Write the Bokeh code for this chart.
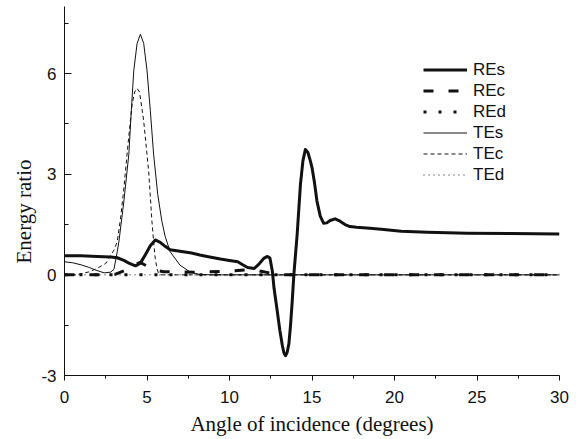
import math
from bokeh.plotting import figure
from bokeh.models import (FixedTicker, Range1d, Legend, LegendItem, Title)
from bokeh.embed import file_html
from bokeh.resources import INLINE

# ---------------- data ----------------
res_x = [0, 1, 2, 2.8, 3.2, 3.6, 3.9, 4.3, 4.6, 4.9, 5.2, 5.5, 5.8, 6.1, 6.4, 6.8,
         7.2, 7.7, 8.2, 8.8, 9.45, 10.0, 10.5, 10.8, 11.1, 11.5, 11.8, 12.1, 12.3,
         12.45, 12.6, 12.7, 12.9, 13.05, 13.2, 13.3, 13.4, 13.5, 13.6, 13.7, 13.8,
         13.9, 14.0, 14.1, 14.2, 14.3, 14.45, 14.6, 14.75, 14.9, 15.0, 15.15, 15.3,
         15.5, 15.7, 15.9, 16.1, 16.4, 16.7, 17.0, 17.3, 17.7, 18.5, 19.2, 20.4,
         22, 24.4, 27, 30]
res_y = [0.57, 0.57, 0.55, 0.53, 0.51, 0.43, 0.35, 0.27, 0.35, 0.6, 0.87, 1.04,
         0.97, 0.85, 0.75, 0.72, 0.69, 0.65, 0.59, 0.53, 0.47, 0.43, 0.39, 0.3,
         0.22, 0.19, 0.33, 0.5, 0.55, 0.5, 0.1, -0.4, -1.1, -1.65, -2.1, -2.33,
         -2.41, -2.3, -2.05, -1.5, -0.8, 0.0, 0.6, 1.2, 1.95, 2.7, 3.4, 3.74, 3.65,
         3.4, 3.2, 2.75, 2.2, 1.75, 1.54, 1.55, 1.62, 1.67, 1.6, 1.5, 1.44, 1.42,
         1.39, 1.36, 1.3, 1.27, 1.24, 1.23, 1.22]

rec_x = [0, 1, 2, 2.6, 3.1, 3.7, 4.2, 4.6, 5.2, 5.6, 6.0, 6.7, 8.0, 9.5, 10.5,
         11.2, 11.8, 12.5, 13.0, 30]
rec_y = [0, 0, 0, 0.0, 0.02, 0.14, 0.3, 0.37, 0.21, 0.13, 0.09, 0.09, 0.08, 0.1,
         0.13, 0.15, 0.12, 0.05, 0.0, 0.0]

red_x = [0, 30]
red_y = [0, 0]

tes_x = [0, 0.5, 1.0, 1.5, 1.9, 2.4, 2.8, 3.0, 3.2, 3.3, 3.6, 3.9, 4.05, 4.2, 4.4,
         4.6, 4.8, 5.0, 5.2, 5.4, 5.65, 5.9, 6.1, 6.4, 7.0, 7.6, 8.2, 9.0, 30]
tes_y = [0.39, 0.36, 0.3, 0.22, 0.14, 0.06, 0.08, 0.17, 0.7, 1.0, 2.2, 3.6, 4.9,
         6.1, 6.9, 7.17, 6.9, 6.1, 4.9, 3.6, 2.4, 1.6, 1.15, 0.69, 0.29, 0.09,
         0.01, 0.0, 0.0]

tec_x = [0, 0.7, 1.5, 2.0, 2.5, 3.0, 3.2, 3.4, 3.6, 3.85, 4.1, 4.25, 4.4, 4.55,
         4.8, 5.1, 5.3, 5.4, 5.5, 5.6, 5.7, 5.9, 30]
tec_y = [0, 0, 0.09, 0.2, 0.34, 0.74, 1.0, 1.7, 2.59, 3.9, 5.09, 5.45, 5.56, 5.45,
         4.59, 3.09, 1.59, 1.0, 0.49, 0.2, 0.04, 0.0, 0.0]

ted_x = [0, 30]
ted_y = [0, 0]

x_ticks = [0, 5, 10, 15, 20, 25, 30]
x_minor = [2.5, 7.5, 12.5, 17.5, 22.5, 27.5]
y_ticks = [-3, 0, 3, 6]
y_minor = [-1.5, 1.5, 4.5, 7.5]

# ---------------- figure ----------------
p = figure(width=582, height=439, output_backend="svg", toolbar_location=None,
           x_range=Range1d(0, 30), y_range=Range1d(-3, 8.0))
p.min_border_left = 64
p.min_border_right = 23
p.min_border_top = 6
p.min_border_bottom = 64
p.outline_line_color = None
p.xgrid.visible = False
p.ygrid.visible = False
p.background_fill_color = "white"
p.border_fill_color = "white"

ink = "#111111"

r1 = p.line(res_x, res_y, line_color=ink, line_width=3, line_join="round")
r2 = p.line(rec_x, rec_y, line_color=ink, line_width=3, line_dash="10 15")
r3 = p.line(red_x, red_y, line_color=ink, line_width=3, line_dash="3 12")
r4 = p.line(tes_x, tes_y, line_color=ink, line_width=1, line_join="round")
r5 = p.line(tec_x, tec_y, line_color=ink, line_width=1, line_dash="4 3")
r6 = p.line(ted_x, ted_y, line_color=ink, line_width=1, line_dash="1 4")

# axes
xa = p.xaxis[0]
ya = p.yaxis[0]
xa.ticker = FixedTicker(ticks=x_ticks, minor_ticks=x_minor)
ya.ticker = FixedTicker(ticks=y_ticks, minor_ticks=y_minor)
for ax in (xa, ya):
    ax.axis_line_color = ink
    ax.major_tick_line_color = ink
    ax.minor_tick_line_color = ink
    ax.major_label_text_font = "Liberation Sans"
    ax.major_label_text_font_size = "17px"
    ax.major_label_text_color = ink
    ax.axis_label_text_font = "Liberation Serif"
    ax.axis_label_text_font_size = "21px"
    ax.axis_label_text_font_style = "normal"
    ax.axis_label_text_color = ink

xa.major_tick_in = 0
xa.major_tick_out = 5
xa.minor_tick_in = 0
xa.minor_tick_out = 3
xa.major_label_standoff = 10
xa.axis_label = "Angle of incidence (degrees)"
xa.axis_label_standoff = 6

ya.major_tick_in = 7
ya.major_tick_out = 0
ya.minor_tick_in = 4
ya.minor_tick_out = 0
ya.major_label_standoff = 8
ya.major_label_overrides = {-3: "-3"}

ytitle = Title(text="Energy ratio", align="left", offset=112, standoff=5,
               text_font="Liberation Serif", text_font_size="21px",
               text_font_style="normal", text_color=ink)
p.add_layout(ytitle, "left")

legend = Legend(items=[
    LegendItem(label="REs", renderers=[r1]),
    LegendItem(label="REc", renderers=[r2]),
    LegendItem(label="REd", renderers=[r3]),
    LegendItem(label="TEs", renderers=[r4]),
    LegendItem(label="TEc", renderers=[r5]),
    LegendItem(label="TEd", renderers=[r6]),
], location=(359, 190))
legend.glyph_width = 44
legend.glyph_height = 21
legend.label_height = 21
legend.spacing = 0
legend.padding = 0
legend.margin = 0
legend.label_standoff = 6
legend.label_text_font = "Liberation Sans"
legend.label_text_font_size = "17px"
legend.label_text_color = ink
legend.border_line_color = None
legend.background_fill_alpha = 0
p.add_layout(legend)

open("out.html", "w").write(file_html(p, INLINE))
